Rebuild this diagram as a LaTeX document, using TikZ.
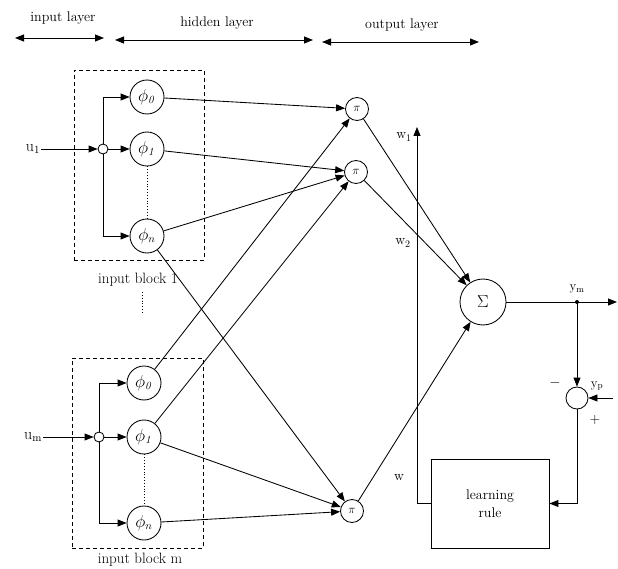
\documentclass[tikz,border=0pt]{standalone}
\usetikzlibrary{arrows.meta}
\begin{document}
\begin{tikzpicture}[x=1pt,y=-1pt,
  every node/.style={font=\fontsize{14}{16}\selectfont},
  ln/.style={line width=0.85pt},
  tip/.tip={Triangle[length=9pt,width=7pt]},
  arr/.style={ln,-tip},
  dbl/.style={ln,tip-tip},
  phinode/.style={circle,draw,ln,minimum size=34pt,inner sep=0pt,font=\fontsize{16}{18}\selectfont},
  pinode/.style={circle,draw,ln,minimum size=23pt,inner sep=0pt,font=\fontsize{13}{15}\selectfont},
  signode/.style={circle,draw,ln,minimum size=46pt,inner sep=0pt,font=\fontsize{18}{20}\selectfont},
  errnode/.style={circle,draw,ln,minimum size=22pt,inner sep=0pt},
  jn/.style={circle,draw,ln,fill=white,minimum size=10pt,inner sep=0pt},
  blk/.style={draw,ln,dash pattern=on 4pt off 3pt,inner sep=0pt},
  lbl/.style={inner sep=1pt},
]
\useasboundingbox (0,0) rectangle (618,569);

% header
\node[lbl] (hin) at (63,18) {input layer};
\node[lbl] (hhid) at (217,23) {hidden layer};
\node[lbl] (hout) at (402,25) {output layer};
\coordinate (a1) at (15,38); \coordinate (a2) at (104,38);
\coordinate (b1) at (115,40); \coordinate (b2) at (313,40);
\coordinate (c1) at (322,42); \coordinate (c2) at (479,42);
\draw[dbl] (a1) -- (a2);
\draw[dbl] (b1) -- (b2);
\draw[dbl] (c1) -- (c2);

% input block 1
\node[blk,minimum width=130pt,minimum height=190pt] (blk1) at (139,165) {};
\node[lbl,font=\fontsize{15}{17}\selectfont] (blk1lbl) at (138,280) {input block 1};
\node[phinode] (p10) at (147,97) {$\phi_{\mathit 0}$};
\node[phinode] (p11) at (147,149) {$\phi_{\mathit 1}$};
\node[phinode] (p1n) at (147,236) {$\phi_{n}$};
\node[jn] (j1) at (103,149) {};
\node[lbl,font=\fontsize{16}{18}\selectfont] (u1) at (33,149) {u$_{1}$};
\draw[arr] (u1) -- (j1);
\draw[arr] (j1) -- (p11);
\draw[arr] (j1.north) |- (p10);
\draw[arr] (j1.south) |- (p1n);
\draw[ln,dotted] (p11) -- (p1n);

% dots between blocks
\coordinate (d1) at (142,292); \coordinate (d2) at (142,314);
\draw[ln,dotted] (d1) -- (d2);

% input block m
\node[blk,minimum width=131pt,minimum height=190pt] (blkm) at (137.5,453) {};
\node[lbl,font=\fontsize{15}{17}\selectfont] (blkmlbl) at (140,560) {input block m};
\node[phinode] (pm0) at (144,383) {$\phi_{\mathit 0}$};
\node[phinode] (pm1) at (144,437) {$\phi_{\mathit 1}$};
\node[phinode] (pmn) at (144,523) {$\phi_{n}$};
\node[jn] (jm) at (99,437) {};
\node[lbl,font=\fontsize{16}{18}\selectfont] (um) at (33,437) {u$_{\mathrm{m}}$};
\draw[arr] (um) -- (jm);
\draw[arr] (jm) -- (pm1);
\draw[arr] (jm.north) |- (pm0);
\draw[arr] (jm.south) |- (pmn);
\draw[ln,dotted] (pm1) -- (pmn);

% product nodes
\node[pinode] (pi1) at (357,109) {$\pi$};
\node[pinode] (pi2) at (356,172) {$\pi$};
\node[pinode] (pi3) at (352,511) {$\pi$};

\draw[arr] (p10) -- (pi1);
\draw[arr] (pm0) -- (pi1);
\draw[arr] (p11) -- (pi2);
\draw[arr] (p1n) -- (pi2);
\draw[arr] (pm1) -- (pi2);
\draw[arr] (p1n) -- (pi3);
\draw[arr] (pm1) -- (pi3);
\draw[arr] (pmn) -- (pi3);

% sum
\node[signode] (sig) at (483,302) {$\Sigma$};
\draw[arr] (pi1) -- (sig);
\draw[arr] (pi2) -- (sig);
\draw[arr] (pi3) -- (sig);

% learning rule
\node[draw,ln,minimum width=118pt,minimum height=89pt,align=center,
  font=\fontsize{14}{18}\selectfont] (lr) at (490,503.5) {learning\\rule};
\coordinate (wtop) at (417,127);
\draw[arr] (lr.west) -| (wtop);
\node[lbl] (w1) at (404,137) {w$_{1}$};
\node[lbl] (w2) at (403,243) {w$_{2}$};
\node[lbl] (w) at (399,478) {w};

% output and error
\coordinate (ydot) at (577,302);
\coordinate (yout) at (617,302);
\draw[arr] (sig) -- (yout);
\fill (ydot) circle (2pt);
\node[lbl,font=\fontsize{13}{15}\selectfont] (ym) at (577,289) {y$_{\mathrm{m}}$};
\node[errnode] (err) at (577,398) {};
\draw[arr] (ydot) -- (err);
\coordinate (ypin) at (613,398);
\draw[arr] (ypin) -- (err);
\node[lbl,font=\fontsize{13}{15}\selectfont] (yp) at (597,386) {y$_{\mathrm{p}}$};
\node[lbl] (minus) at (555,383) {$-$};
\node[lbl] (plus) at (595,420) {+};
\draw[arr] (err.south) |- (lr.east);
\end{tikzpicture}
\end{document}
